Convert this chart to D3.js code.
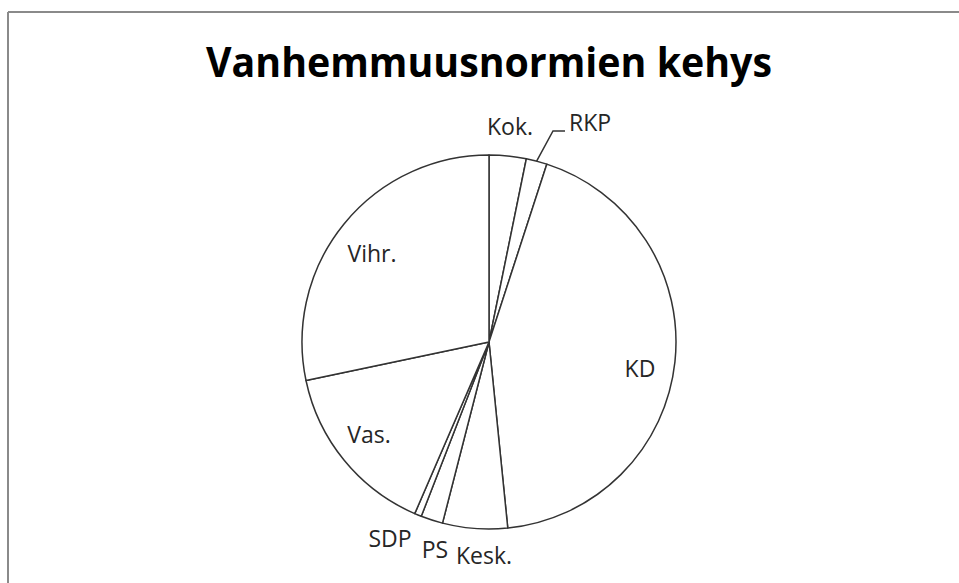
<!DOCTYPE html>
<html>
<head>
<meta charset="utf-8">
<script src="https://cdn.jsdelivr.net/npm/d3@7/dist/d3.min.js"></script>
<style>
  body { margin: 0; background: #fff; }
  svg text { font-family: "Open Sans", "DejaVu Sans", sans-serif; fill: #262626; }
</style>
</head>
<body>
<div id="chart"></div>
<script>
var parties = ["Kok.", "RKP", "KD", "Kesk.", "PS", "SDP", "Vas.", "Vihr."];
var shares = [3.2, 1.8, 43.4, 5.6, 1.9, 0.6, 15.2, 28.3];

var width = 959, height = 583;
var cx = 489, cy = 342, radius = 187;

// label spots relative to pie centre (hand placed like the original)
var labelPos = {
  "Kok.": [21, -207, "middle"],
  "RKP": [80, -211, "start"],
  "KD": [151, 35, "middle"],
  "Kesk.": [-5, 222, "middle"],
  "PS": [-54, 216, "middle"],
  "SDP": [-99, 205, "middle"],
  "Vas.": [-120, 101, "middle"],
  "Vihr.": [-117, -80, "middle"]
};

var svg = d3.select("#chart")
  .append("svg")
    .attr("width", width)
    .attr("height", height);

// frame lines (top and left only visible)
svg.append("line")
  .attr("x1", 8).attr("y1", 12).attr("x2", width).attr("y2", 12)
  .attr("stroke", "#8a8a8a").attr("stroke-width", 2);
svg.append("line")
  .attr("x1", 8).attr("y1", 12).attr("x2", 8).attr("y2", height)
  .attr("stroke", "#8a8a8a").attr("stroke-width", 2);

svg.append("text")
  .attr("x", 489)
  .attr("y", 77)
  .attr("text-anchor", "middle")
  .attr("font-size", 41)
  .attr("font-weight", 700)
  .attr("textLength", 566)
  .attr("lengthAdjust", "spacingAndGlyphs")
  .style("fill", "#000")
  .text("Vanhemmuusnormien kehys");

var pie = d3.pie().sort(null).value(function(d){ return d; });
var arc = d3.arc().innerRadius(0).outerRadius(radius);

var g = svg.append("g")
  .attr("transform", "translate(" + cx + "," + cy + ")");

var arcs = pie(shares);

g.selectAll("path")
  .data(arcs)
  .enter().append("path")
    .attr("d", arc)
    .attr("fill", "#fff")
    .attr("stroke", "#333")
    .attr("stroke-width", 1.5)
    .attr("stroke-linejoin", "round");

g.selectAll("text.lbl")
  .data(arcs)
  .enter().append("text")
    .attr("class", "lbl")
    .attr("x", function(d, i){ return labelPos[parties[i]][0]; })
    .attr("y", function(d, i){ return labelPos[parties[i]][1]; })
    .attr("text-anchor", function(d, i){ return labelPos[parties[i]][2]; })
    .attr("font-size", 23)
    .text(function(d, i){ return parties[i]; });

// leader line for RKP
var rkp = arcs[1];
var mid = (rkp.startAngle + rkp.endAngle) / 2;
var px = Math.sin(mid) * radius, py = -Math.cos(mid) * radius;
g.append("polyline")
  .attr("points", [[px, py], [64, -211], [76, -211]].map(function(p){ return p.join(","); }).join(" "))
  .attr("fill", "none")
  .attr("stroke", "#333")
  .attr("stroke-width", 1.5);
</script>
</body>
</html>
